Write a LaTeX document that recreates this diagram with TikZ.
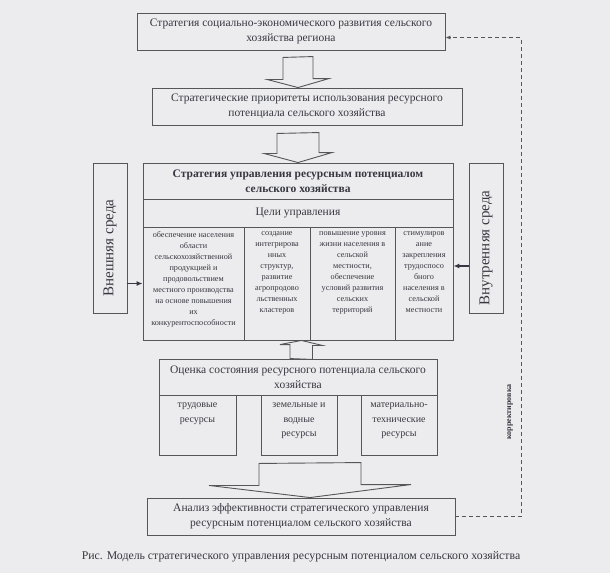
\documentclass[tikz,border=0pt]{standalone}
\usepackage{fontspec}
\setmainfont{Liberation Serif}
\usetikzlibrary{arrows.meta,calc}
\definecolor{paper}{RGB}{236,236,238}
\definecolor{frame}{RGB}{85,85,90}
\definecolor{ink}{RGB}{55,55,65}
\begin{document}
\begin{tikzpicture}[x=1pt,y=-1pt,
  block/.style = {rectangle,draw=frame,line width=0.9pt,text=ink,align=center,inner sep=0pt,font=\fontsize{11.5}{15}\selectfont},
  goal/.style = {block,minimum height=113,font=\fontsize{8.2}{10.9}\selectfont},
  res/.style = {block,minimum height=60,font=\fontsize{10}{14.5}\selectfont},
  sidebox/.style = {block,minimum width=34,minimum height=150,font=\fontsize{15}{17}\selectfont},
  hollow/.style = {draw=frame,line width=0.9pt,line join=miter},
  arr/.style = {draw=ink,line width=1.1pt,-{Latex[length=6pt,width=5pt]}},
  feedback/.style = {draw=frame,line width=0.8pt,dash pattern=on 4pt off 3pt,-{Latex[length=5pt,width=4pt]}}]
\fill[paper] (0,0) rectangle (610,573);
\useasboundingbox (0,0) rectangle (610,573);
\node[block,minimum width=308,minimum height=37] (strat) at (291,31.5) {Стратегия социально-экономического развития сельского\\хозяйства региона};
\node[block,minimum width=310,minimum height=37] (prior) at (307,106.5) {Стратегические приоритеты использования ресурсного\\потенциала сельского хозяйства};
\node[block,minimum width=310,minimum height=36,font=\fontsize{11.5}{15}\selectfont\bfseries] (title) at (298,181) {Стратегия управления ресурсным потенциалом\\сельского хозяйства};
\node[block,minimum width=310,minimum height=28] (aims) at (298,213) {Цели управления};
\foreach \cx/\cw/\ct [count=\j] in {193.5/101/{обеспечение населения\\области\\сельскохозяйственной\\продукцией и\\продовольствием\\местного производства\\на основе повышения\\их\\конкурентоспособности},
    277/66/{создание\\интегрирова\\нных\\структур,\\развитие\\агропродово\\льственных\\кластеров},
    352.5/85/{повышение уровня\\жизни населения в\\сельской\\местности,\\обеспечение\\условий развития\\сельских\\территорий},
    424/58/{стимулиров\\ание\\закрепления\\трудоспосо\\бного\\населения в\\сельской\\местности}}
    \node[goal,minimum width=\cw] (g\j) at (\cx,283.5) {\parbox[c][103pt][t]{\cw pt}{\centering\ct}};
\node[sidebox] (outer) at (110,238) {\rotatebox{90}{Внешняя среда\hspace{20pt}}};
\node[sidebox] (inner) at (486,238) {\rotatebox{90}{Внутренняя среда\hspace{20pt}}};
\node[block,minimum width=278,minimum height=36] (eval) at (298,377) {Оценка состояния ресурсного потенциала сельского\\хозяйства};
\foreach \rx/\rw/\rt [count=\j] in {197.5/77/{трудовые\\ресурсы}, 299/76/{земельные и\\водные\\ресурсы}, 399/76/{материально-\\технические\\ресурсы}}
    \node[res,minimum width=\rw] (r\j) at (\rx,425) {\parbox[c][44pt][t]{\rw pt}{\centering\rt}};
\node[block,minimum width=308,minimum height=37] (anal) at (301,516.5) {Анализ эффективности стратегического управления\\ресурсным потенциалом сельского хозяйства};
\node[text=ink,font=\fontsize{8}{9}\selectfont\bfseries] (corr) at (510,412) {\rotatebox{90}{корректировка}};
\node[text=ink,font=\fontsize{11.8}{14}\selectfont] (cap) at (301,557) {Рис. Модель стратегического управления ресурсным потенциалом сельского хозяйства};
\draw[hollow] ($(title.north |- strat.south)+(-15,7)$) -- ++(0,22) -- ++(-16,0) -- (title.north |- prior.north) -- ++(31,-9) -- ++(-16,0) -- ++(0,-22) -- cycle;
\draw[hollow] ($(prior.south -| title.north)+(-21,8)$) -- ++(0,20) -- ++(-13,0) -- (title.north) -- ++(34,-10) -- ++(-13,0) -- ++(0,-20) -- cycle;
\draw[hollow] ($(eval.north)+(-8,0)$) -- ++(0,-14) -- ++(-10,0) -- ($(g2.south east)+(-9,0)$) -- ++(21,5) -- ++(-10,0) -- ++(0,14) -- cycle;
\draw[hollow] ($(r2.south)+(-40,8)$) -- ++(0,22) -- ++(-50,0) -- ($(anal.north)+(9,0)$) -- ++(101,-13) -- ++(-50,0) -- ++(0,-22) -- cycle;
\draw[arr] (outer.east |- g1.west) -- (g1.west);
\coordinate (rin) at ([yshift=17.5pt]g4.east);
\draw[arr] (rin -| inner.west) -- (rin);
\draw[feedback] (anal.east) -- ++(66,0) |- ($(strat.east)+(0,6)$);
\end{tikzpicture}
\end{document}
